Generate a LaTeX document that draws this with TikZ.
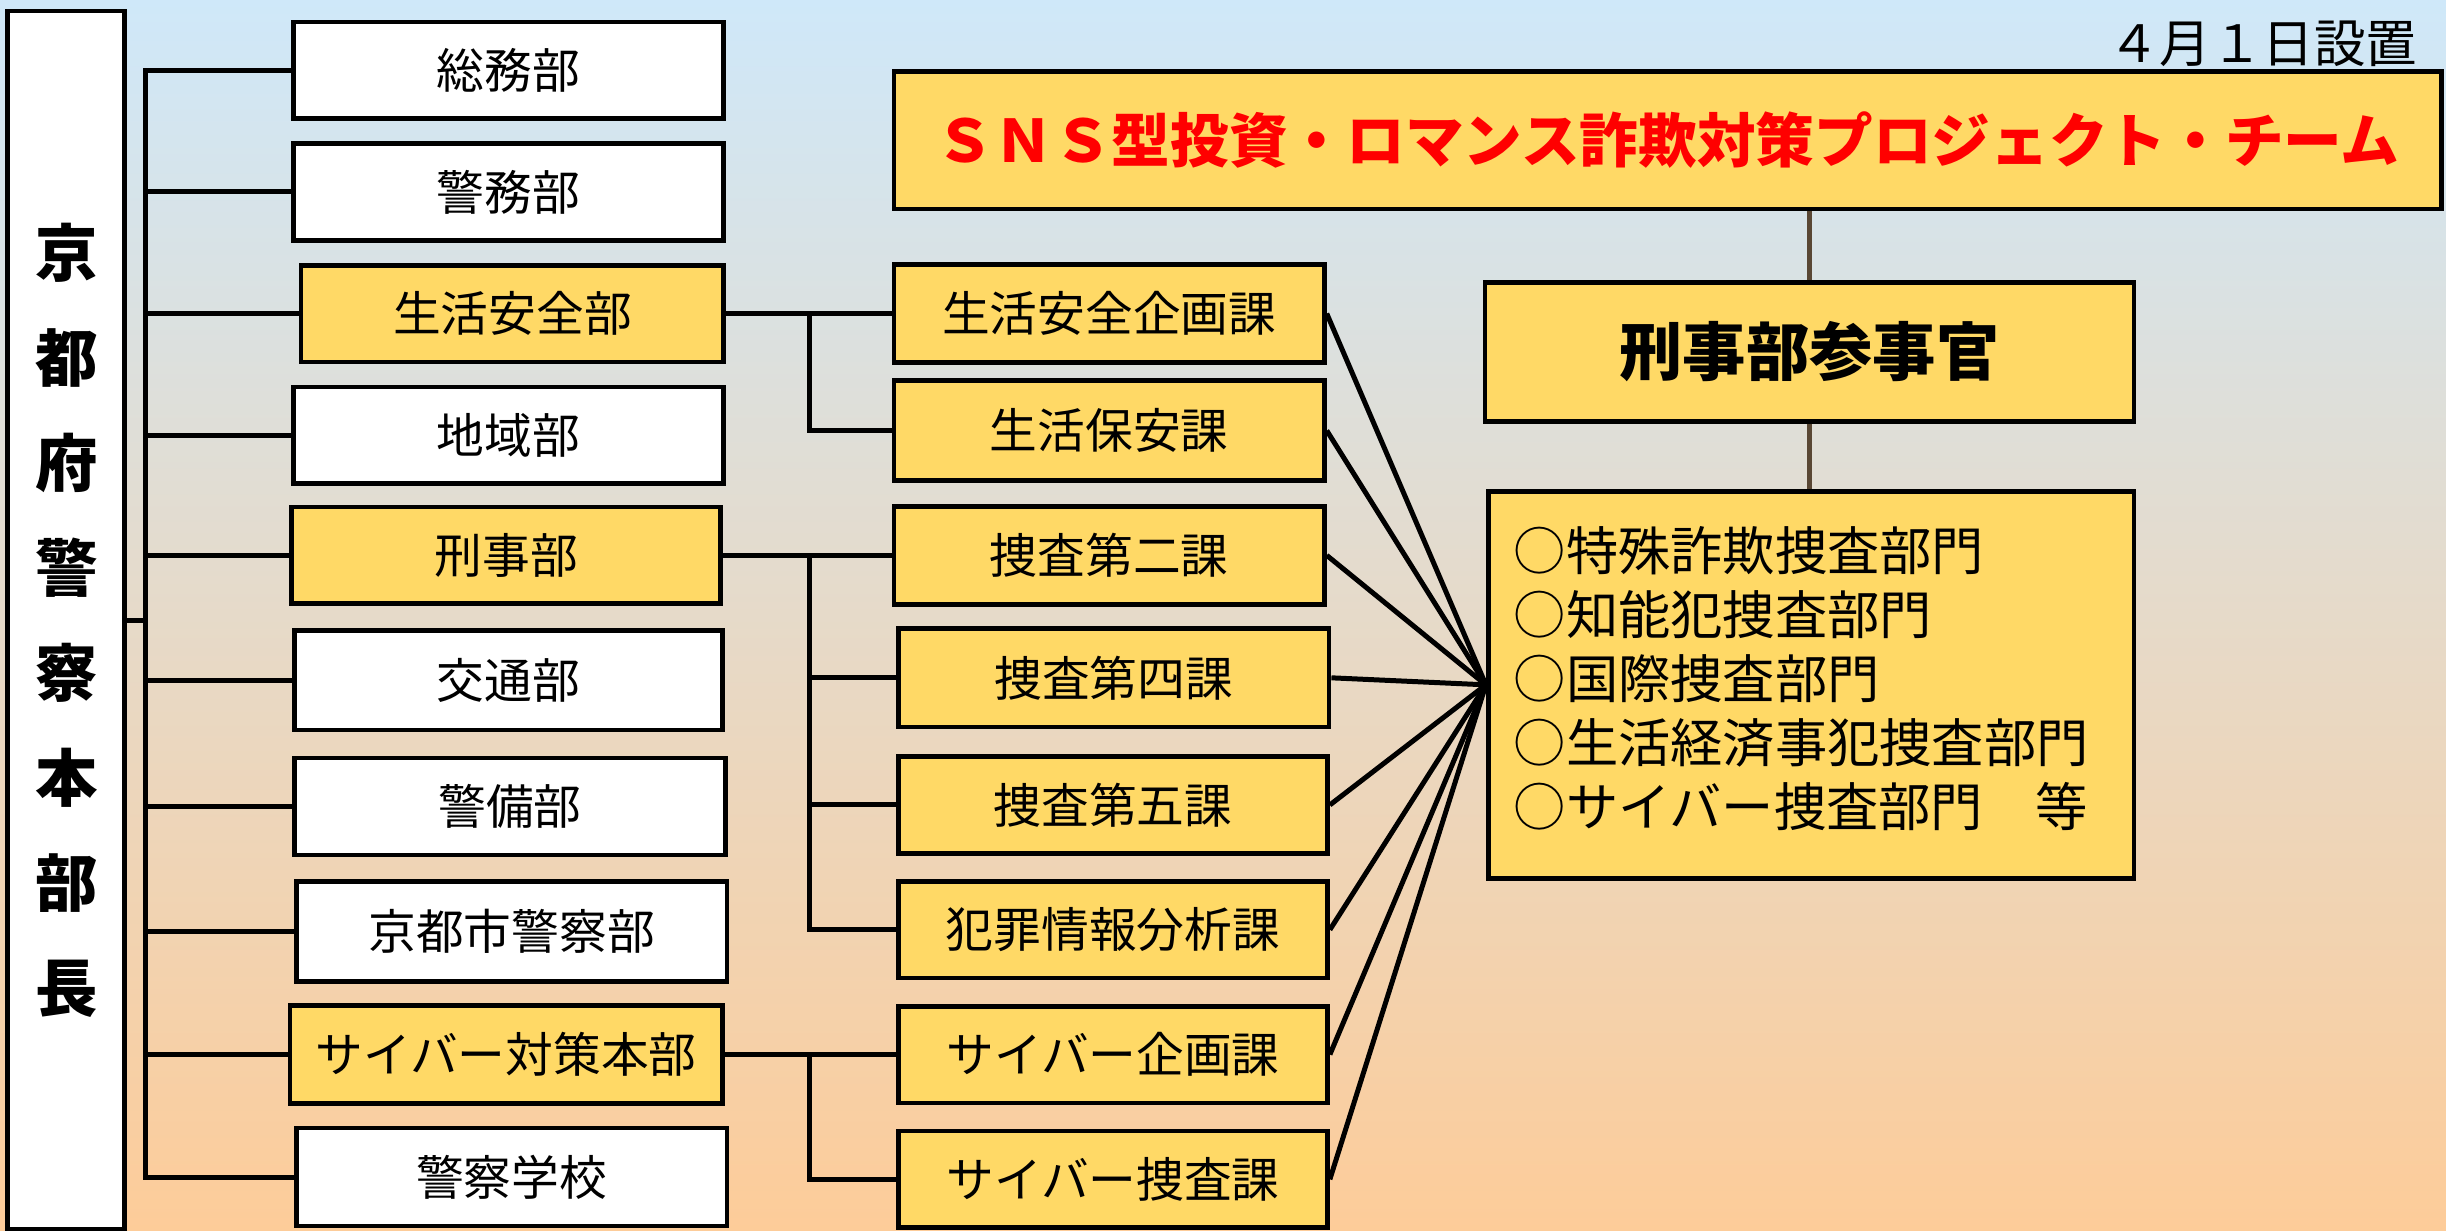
\documentclass[tikz,border=0pt]{standalone}
\usepackage{fontspec}
\setmainfont{Noto Sans CJK JP}
\usetikzlibrary{backgrounds}
\definecolor{boxyellow}{RGB}{255,217,102}
\definecolor{bgblue}{RGB}{207,232,249}
\definecolor{bgpeach}{RGB}{253,204,153}
\definecolor{linkbrown}{RGB}{89,71,52}
\definecolor{titlered}{RGB}{255,0,0}
\tikzset{
  box/.style={draw=black, line width=1.5pt, inner sep=0pt, font=\fontsize{15.3}{18}\selectfont},
  whitebox/.style={box, fill=white},
  ybox/.style={box, fill=boxyellow},
  conn/.style={draw=black, line width=1.6pt, line join=miter},
  fan/.style={draw=black, line width=1.6pt},
  brownlink/.style={draw=linkbrown, line width=1.6pt},
}
\begin{document}
\begin{tikzpicture}[x=0.5pt,y=-0.5pt]
\begin{scope}[on background layer]
\shade[top color=bgblue,bottom color=bgpeach] (0,0) rectangle (1568,789);
\end{scope}
\useasboundingbox (0,0) rectangle (1568,789);

% chief
\node[whitebox, minimum width=37.5pt, minimum height=390.5pt, align=center,
  font=\fontsize{20}{33.65}\selectfont\bfseries] (chief) at (42.5,397.5)
  {京\\都\\府\\警\\察\\本\\部\\長};

% column 1
\node[whitebox, minimum width=138pt, minimum height=31pt] (soumu) at (326,45) {総務部};
\node[whitebox, minimum width=138pt, minimum height=31pt] (keimu) at (326,123) {警務部};
\node[ybox, minimum width=135.5pt, minimum height=31pt] (seian) at (328.5,201) {生活安全部};
\node[whitebox, minimum width=138pt, minimum height=31pt] (chiiki) at (326,279) {地域部};
\node[ybox, minimum width=137.5pt, minimum height=31pt] (keiji) at (324.5,356) {刑事部};
\node[whitebox, minimum width=137pt, minimum height=32pt] (koutsu) at (326,436) {交通部};
\node[whitebox, minimum width=138pt, minimum height=31pt] (keibi) at (327,517) {警備部};
\node[whitebox, minimum width=138pt, minimum height=32pt] (kyoto) at (328,597) {京都市警察部};
\node[ybox, minimum width=138.5pt, minimum height=31.5pt] (cyber) at (324.5,676) {サイバー対策本部};
\node[whitebox, minimum width=138pt, minimum height=31.5pt] (gakkou) at (328,754.5) {警察学校};

% column 2
\node[ybox, minimum width=138pt, minimum height=31.5pt] (sk) at (711,201) {生活安全企画課};
\node[ybox, minimum width=138pt, minimum height=32pt] (sh) at (711,276) {生活保安課};
\node[ybox, minimum width=138pt, minimum height=31.5pt] (s2) at (711,356) {捜査第二課};
\node[ybox, minimum width=138pt, minimum height=31.5pt] (s4) at (714,434.5) {捜査第四課};
\node[ybox, minimum width=137.5pt, minimum height=31pt] (s5) at (713.5,516) {捜査第五課};
\node[ybox, minimum width=137.5pt, minimum height=31pt] (hj) at (713.5,596) {犯罪情報分析課};
\node[ybox, minimum width=137.5pt, minimum height=31pt] (ck) at (713.5,676) {サイバー企画課};
\node[ybox, minimum width=137.5pt, minimum height=31pt] (cs) at (713.5,756) {サイバー捜査課};

% right side
\node[ybox, minimum width=496pt, minimum height=44pt, text=titlered,
  font=\fontsize{18.8}{22}\selectfont\bfseries] (title) at (1069,90)
  {ＳＮＳ型投資・ロマンス詐欺対策プロジェクト・チーム};
\node[anchor=east, inner sep=0pt, font=\fontsize{16.5}{20}\selectfont] (date) at (1550,28) {４月１日設置};
\node[ybox, minimum width=208pt, minimum height=44.5pt,
  font=\fontsize{20.3}{24}\selectfont\bfseries] (sanjikan) at (1160,225.5) {刑事部参事官};
\node[ybox, minimum width=207pt, minimum height=124pt] (bureau) at (1161,439) {};
\node[anchor=west, inner sep=0pt, align=left, font=\fontsize{16.75}{20.55}\selectfont] (list) at (970,435)
  {○特殊詐欺捜査部門\\○知能犯捜査部門\\○国際捜査部門\\○生活経済事犯捜査部門\\○サイバー捜査部門　等};

\begin{scope}[on background layer]
\coordinate (tx) at (93,0);
\coordinate (sx) at (519,0);
\draw[conn] (soumu.west) -- (soumu.west -| tx) -- (gakkou.west -| tx) -- (gakkou.west);
\foreach \n in {keimu,seian,chiiki,keiji,koutsu,keibi,kyoto,cyber}
  \draw[conn] (\n.west) -- (\n.west -| tx);
\draw[conn] (chief.east) -- (chief.east -| tx);
% sub branches
\draw[conn] (seian.east) -- (sk.west);
\draw[conn] (seian.east -| sx) |- (sh.west);
\draw[conn] (keiji.east) -- (s2.west);
\draw[conn] (keiji.east -| sx) |- (hj.west);
\draw[conn] (s4.west) -- (s4.west -| sx);
\draw[conn] (s5.west) -- (s5.west -| sx);
\draw[conn] (cyber.east) -- (ck.west);
\draw[conn] (cyber.east -| sx) |- (cs.west);
% fan
\foreach \n in {sk,sh,s2,s4,s5,hj,ck,cs}
  \draw[fan] (\n.east) -- (bureau.west);
% brown links
\draw[brownlink] (sanjikan.north) -- (sanjikan.north |- title.south);
\draw[brownlink] (sanjikan.south) -- (sanjikan.south |- bureau.north);
\end{scope}
\end{tikzpicture}
\end{document}
